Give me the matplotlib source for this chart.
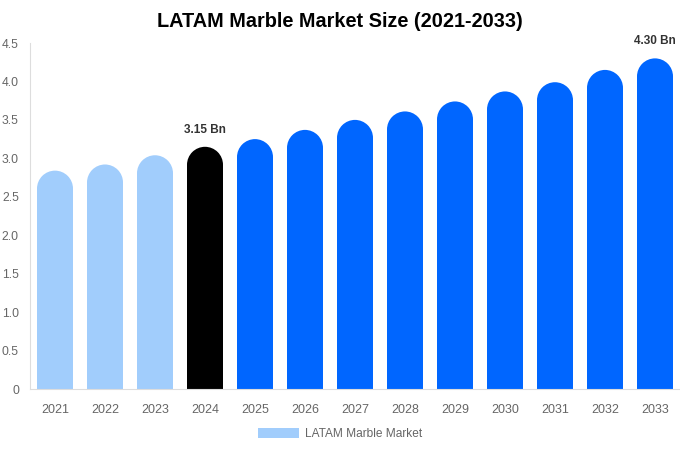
import numpy as np
import matplotlib.pyplot as plt
from matplotlib.patches import Rectangle, Ellipse, Patch

plt.rcParams['font.family'] = ['Liberation Sans', 'DejaVu Sans']

# data
years = ['2021', '2022', '2023', '2024', '2025', '2026', '2027',
         '2028', '2029', '2030', '2031', '2032', '2033']
sizes = [2.84, 2.92, 3.04, 3.15, 3.25, 3.37, 3.50, 3.61, 3.74, 3.87, 3.99, 4.15, 4.30]
kinds = ['hist', 'hist', 'hist', 'base', 'fc', 'fc', 'fc', 'fc', 'fc', 'fc', 'fc', 'fc', 'fc']
labels = {3: '3.15 Bn', 12: '4.30 Bn'}

colors = {'hist': '#a1cdfc', 'base': '#000000', 'fc': '#0066ff'}

fig = plt.figure(figsize=(6.8, 4.5), dpi=100)
ax = fig.add_axes([30 / 680, 61 / 450, 650 / 680, 346 / 450])

ymax = 4.5
ax.set_xlim(-0.5, len(years) - 0.5)
ax.set_ylim(0, ymax)

bw = 0.72
# radius of the rounded cap in data units (half bar width in pixels)
px_per_x = 650 / len(years)
px_per_y = 346 / ymax
r_px = bw * px_per_x / 2
r_y = r_px / px_per_y

for i, (v, k) in enumerate(zip(sizes, kinds)):
    c = colors[k]
    ax.add_patch(Rectangle((i - bw / 2, 0), bw, v - r_y, facecolor=c, edgecolor='none'))
    ax.add_patch(Ellipse((i, v - r_y), bw, 2 * r_y, facecolor=c, edgecolor='none'))
    if i in labels:
        ax.text(i, v + 17 / px_per_y, labels[i], ha='center', va='center',
                fontsize=8.5, fontweight='bold', color='#333333')

ax.set_xticks(range(len(years)))
ax.set_xticklabels(years)
yt = np.arange(0, 4.51, 0.5)
ax.set_yticks(yt)
ax.set_yticklabels(['0' if t == 0 else f'{t:.1f}' for t in yt])
ax.tick_params(axis='both', length=0, labelsize=9, labelcolor='#666666')
ax.tick_params(axis='x', pad=11)
ax.tick_params(axis='y', pad=8, labelsize=8.7)

for s in ['top', 'right']:
    ax.spines[s].set_visible(False)
for s in ['left', 'bottom']:
    ax.spines[s].set_color('#dddddd')
    ax.spines[s].set_linewidth(0.8)

fig.suptitle('LATAM Marble Market Size (2021-2033)', x=0.5, y=0.974,
             fontsize=14.3, fontweight='bold', color='#000000')

leg = fig.legend(handles=[Patch(facecolor=colors['hist'], label='LATAM Marble Market')],
                 loc='center', bbox_to_anchor=(0.5, 0.036), frameon=False,
                 fontsize=8.6, handlelength=3.4, handleheight=0.95, handletextpad=0.5)
for t in leg.get_texts():
    t.set_color('#666666')

fig.savefig('out.png', dpi=100)
